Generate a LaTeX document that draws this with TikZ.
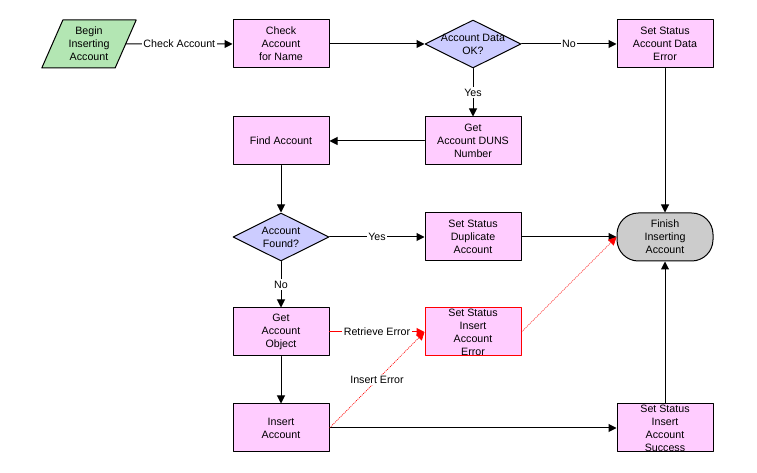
\documentclass[tikz,border=0pt]{standalone}
\usepackage{fontspec}
\setmainfont{Liberation Sans}
\usetikzlibrary{shapes.geometric}
\usetikzlibrary{arrows.meta}

\definecolor{boxpink}{RGB}{255,204,255}
\definecolor{startgreen}{RGB}{179,230,179}
\definecolor{decblue}{RGB}{204,204,255}
\definecolor{endgray}{RGB}{204,204,204}

\begin{document}
\begin{tikzpicture}[line cap=round,line join=round,>={Triangle[length=6pt,width=6pt]},x=0.75pt,y=-0.75pt]
\useasboundingbox (0,0) rectangle (757,473);
\tikzstyle{every node}=[font=\fontsize{8}{9.75}\selectfont];
\tikzstyle{box}=[draw, line width=0.75pt, fill=boxpink, minimum width=72pt, minimum height=36pt, inner sep=0pt, align=center];
\tikzstyle{errbox}=[box, color=red, fill=boxpink, text=black];
\tikzstyle{decision}=[draw, line width=0.75pt, fill=decblue, diamond, aspect=2, minimum width=72pt, minimum height=36pt, inner sep=0pt];
\tikzstyle{startbox}=[draw, line width=0.75pt, fill=startgreen, trapezium, trapezium left angle=64, trapezium right angle=116, trapezium stretches=true, minimum width=71pt, minimum height=36pt, inner sep=0pt, align=center];
\tikzstyle{endbox}=[box, fill=endgray, rounded corners=16pt];
\tikzstyle{elabel}=[fill=white, text=black, inner sep=1pt];
\tikzstyle{link}=[->, line width=0.75pt];
\tikzstyle{errlink}=[->, line width=0.75pt, red];
\tikzstyle{errdots}=[->, line width=0.5pt, red, line cap=butt, dash pattern=on 0.75pt off 0.75pt];

%row 1
\node[startbox] (begin) at (89,44) {Begin\\Inserting\\Account};
\node[box] (check) at (281,44) {Check\\Account\\for Name};
\node[decision, label={[align=center]center:Account Data\\OK?}] (dataok) at (473,44) {};
\node[box] (errdata) at (665,44) {Set Status\\Account Data\\Error};
%row 2
\node[box] (find) at (281,141) {Find Account};
\node[box] (duns) at (473,141) {Get\\Account DUNS\\Number};
%row 3
\node[decision, label={[align=center]center:Account\\Found?}] (found) at (281,237) {};
\node[box] (dup) at (473,237) {Set Status\\Duplicate\\Account};
\node[endbox] (finish) at (665,237) {Finish\\Inserting\\Account};
%row 4
\node[box] (object) at (281,332) {Get\\Account\\Object};
\node[errbox] (errins) at (473,332) {Set Status\\Insert\\Account\\Error};
%row 5
\node[box] (insert) at (281,428) {Insert\\Account};
\node[box] (success) at (665,428) {Set Status\\Insert\\Account\\Success};

\draw[link] (begin) -- node[elabel] {Check Account} (check);
\draw[link] (check) -- (dataok);
\draw[link] (dataok) -- node[elabel] {No} (errdata);
\draw[link] (dataok) -- node[elabel] {Yes} (duns);
\draw[link] (duns) -- (find);
\draw[link] (find) -- (found);
\draw[link] (found) -- node[elabel] {Yes} (dup);
\draw[link] (found) -- node[elabel] {No} (object);
\draw[link] (errdata) -- (finish);
\draw[link] (dup) -- (finish);
\draw[link] (object) -- (insert);
\draw[link] (insert) -- (success);
\draw[link] (success) -- (finish);
%error paths
\draw[errlink] (object) -- node[elabel] {Retrieve Error} (errins);
\draw[errdots] (insert.east) -- node[elabel] {Insert Error} (errins.west);
\draw[errdots] (errins.east) -- (finish.west);
\end{tikzpicture}
\end{document}
